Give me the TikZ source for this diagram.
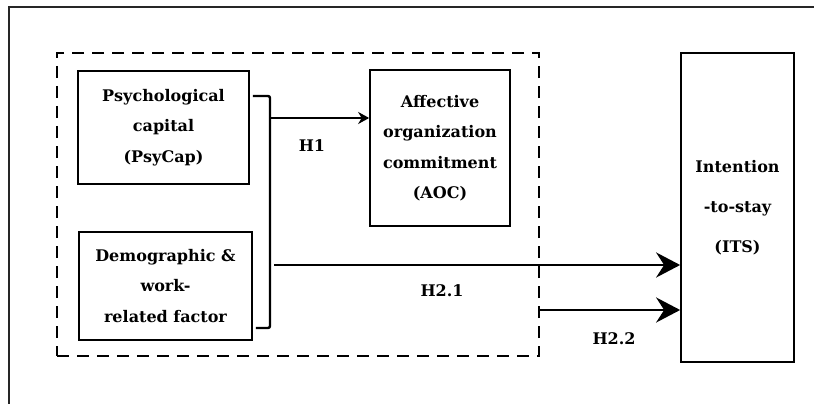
\documentclass[tikz,border=0pt]{standalone}
\usepackage{fontspec}
\setmainfont{DejaVu Serif}
\usetikzlibrary{arrows.meta,positioning}

\tikzset{
  varbox/.style={draw, line width=1.7pt, align=center, inner sep=0pt,
    font=\fontsize{16}{30.5}\selectfont\bfseries},
  grpbox/.style={draw, line width=2.8pt, dash pattern=on 12pt off 8pt, inner sep=0pt},
  hlabel/.style={font=\fontsize{16}{18}\selectfont\bfseries},
  link/.style={line width=2.4pt},
  smalltip/.style={-{Stealth[length=11pt,width=12pt,inset=3.5pt]}},
  bigtip/.style={-{Stealth[length=24pt,width=25pt,inset=8pt]}},
}

\begin{document}
\begin{tikzpicture}[x=1pt, y=-1pt]
\useasboundingbox (0,0) rectangle (814,404);

%--------------------
% Outer frame (only top and left edges show)
%--------------------
\draw[line width=2.4pt, black!85] (9,420) -- (9,7) -- (830,7);

%--------------------
% Dashed group and variables
%--------------------
\node[grpbox, minimum width=482pt, minimum height=303pt] (grp) at (298,204.5) {};

\node[varbox, minimum width=171pt, minimum height=113pt] (psy) at (163.5,127.5)
  {Psychological\\capital\\(PsyCap)};
\node[varbox, minimum width=173pt, minimum height=108pt] (demo) at (165.5,286)
  {Demographic \&\\work-\\related factor};
\node[varbox, minimum width=140pt, minimum height=156pt] (aoc) at (440,148)
  {Affective\\organization\\commitment\\(AOC)};
\node[varbox, minimum width=113pt, minimum height=309pt,
  font=\fontsize{16}{40}\selectfont\bfseries] (its) at (737.5,207.5)
  {Intention\\-to-stay\\(ITS)};

%--------------------
% Bracket joining the two predictors
%--------------------
\coordinate (bTop) at (270,96);
\coordinate (bBot) at (270,328);
\draw[link, rounded corners=2pt, shorten <=3pt, shorten >=3pt]
  (psy.east |- bTop) -- (bTop) -- (bBot) -- (demo.east |- bBot);

%--------------------
% Hypothesis paths
%--------------------
\coordinate (h1) at (270,118);
\draw[link, smalltip] (h1) -- (aoc.west |- h1);
\node[hlabel] (lh1) at (312,146) {H1};

\coordinate (h21) at (274,265);
\draw[link, line width=2.8pt, bigtip] (h21) -- (its.west |- h21);
\node[hlabel] (lh21) at (442,291) {H2.1};

\coordinate (h22) at (539,310);
\draw[link, line width=2.8pt, bigtip] (grp.east |- h22) -- (its.west |- h22);
\node[hlabel] (lh22) at (614,339) {H2.2};

\end{tikzpicture}
\end{document}
